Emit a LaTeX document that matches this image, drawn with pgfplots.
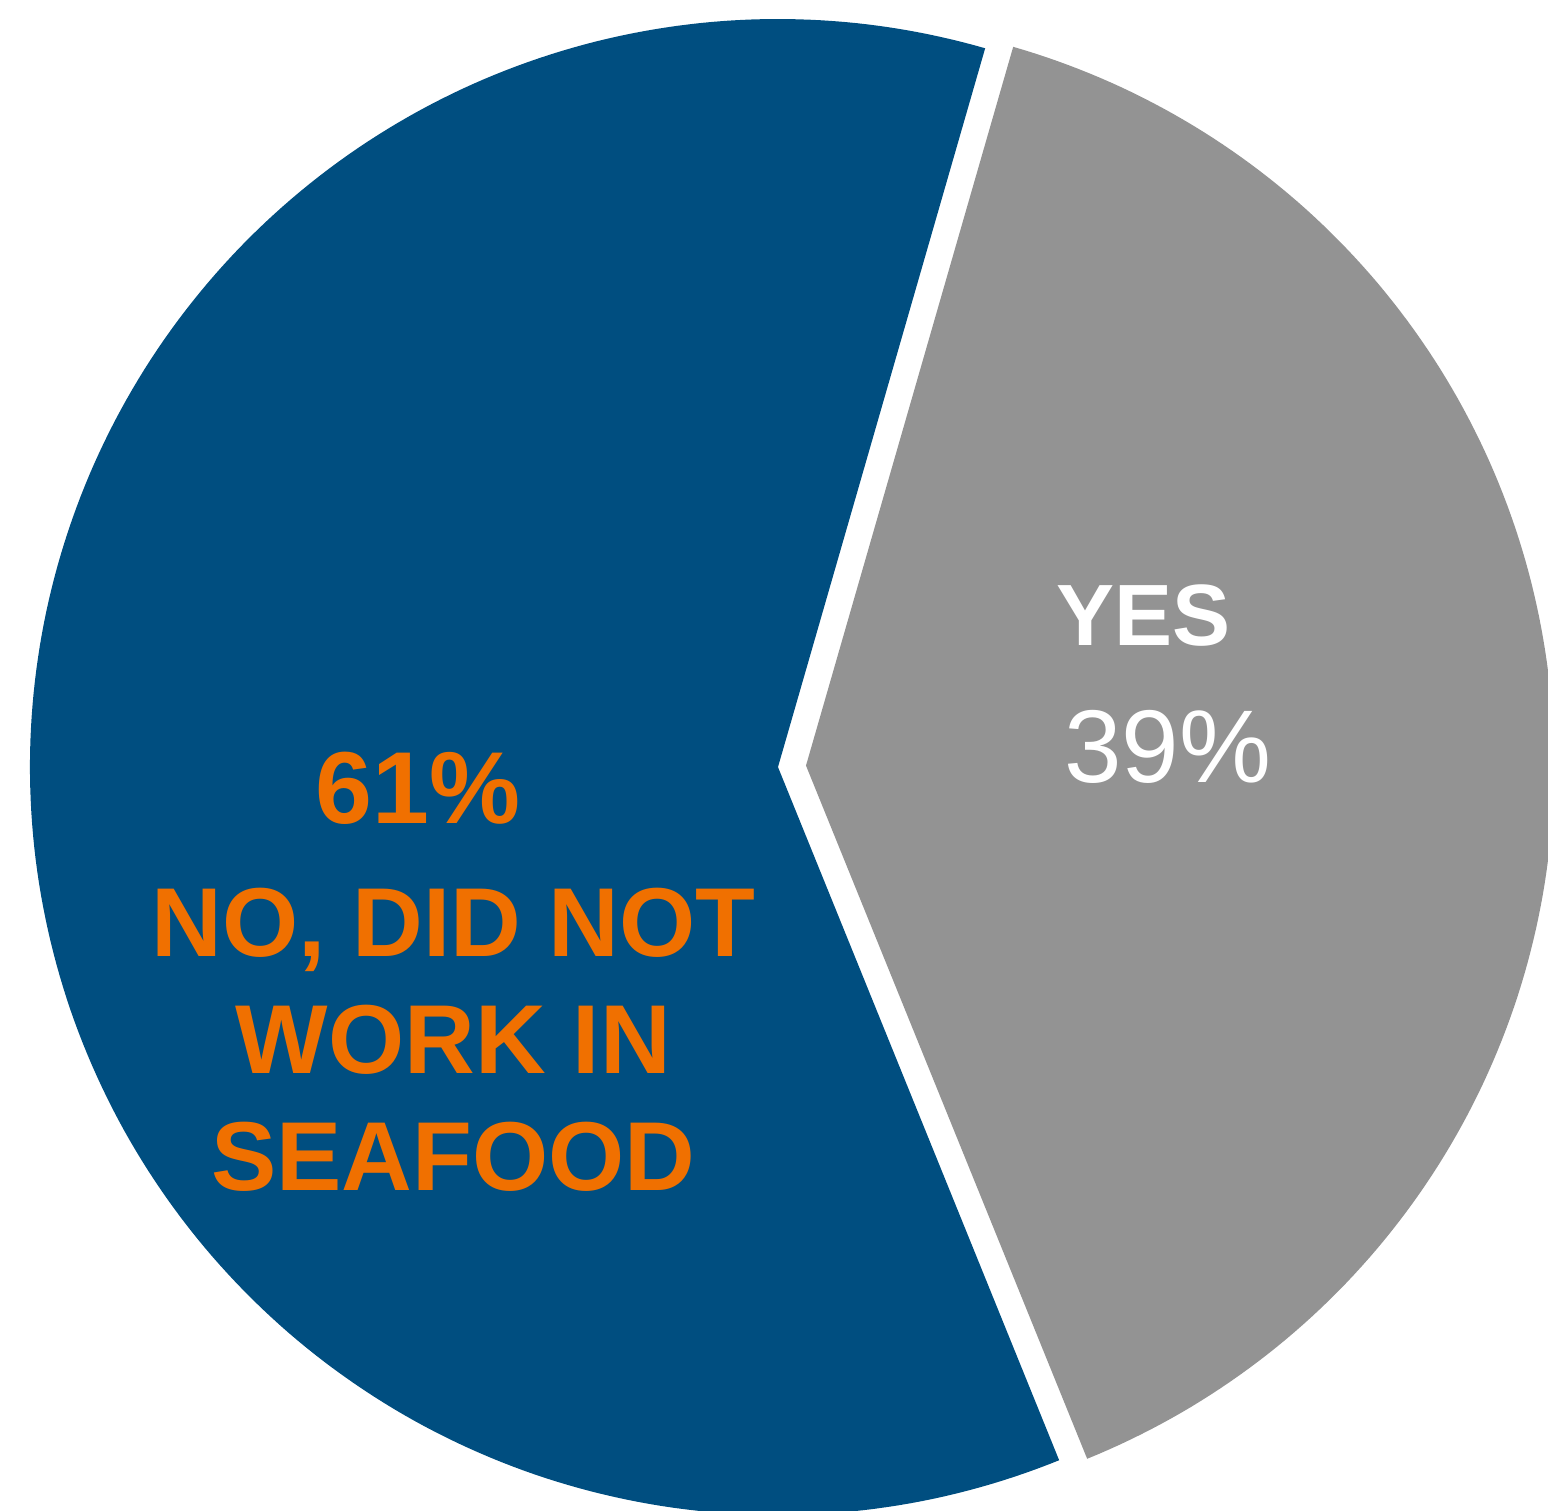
\documentclass[border=0pt]{standalone}
\usepackage{pgfplots}
\pgfplotsset{compat=1.18}
\usepackage{fontspec}
\setmainfont{Liberation Sans}
\definecolor{pieblue}{RGB}{0,78,128}
\definecolor{piegray}{RGB}{147,147,147}
\definecolor{pieorange}{RGB}{240,112,0}
\def\valNo{60.6}
\def\valYes{39.4}
\def\midYes{3}
\pgfmathsetmacro\yesStart{\midYes-\valYes*1.8}
\pgfmathsetmacro\yesEnd{\midYes+\valYes*1.8}
\pgfmathsetmacro\noEnd{\yesEnd+\valNo*3.6}
\pgfmathsetmacro\ex{0.0375*cos(\midYes)}
\pgfmathsetmacro\ey{0.0375*sin(\midYes)}
\begin{document}
\begin{tikzpicture}
\begin{axis}[hide axis, scale only axis, width=10cm, height=9.755cm,
  xmin=-1.040, xmax=1.0294, ymin=-0.9933, ymax=1.0254, clip=true]
\path[draw=none, fill=none] (rel axis cs:0,0) rectangle (rel axis cs:1,1);
\addplot[fill=pieblue, draw=none, domain=\yesEnd:\noEnd, samples=240, variable=\t]
  ({cos(\t)},{sin(\t)}) -- (axis cs:0,0) -- cycle;
\addplot[fill=piegray, draw=none, domain=\yesStart:\yesEnd, samples=160, variable=\t]
  ({\ex+cos(\t)},{\ey+sin(\t)}) -- (axis cs:\ex,\ey) -- cycle;
\node[text=pieorange, font=\bfseries\fontsize{18.8}{22}\selectfont] at (axis cs:-0.481,-0.029) {61\%};
\node[text=pieorange, font=\bfseries\fontsize{18}{21.5}\selectfont, align=center] at (axis cs:-0.434,-0.365) {NO, DID NOT\\WORK IN\\SEAFOOD};
\node[text=white, font=\bfseries\fontsize{16}{19}\selectfont] at (axis cs:0.489,0.202) {YES};
\node[text=white, font=\fontsize{19}{22}\selectfont] at (axis cs:0.521,0.027) {39\%};
\end{axis}
\end{tikzpicture}
\end{document}
